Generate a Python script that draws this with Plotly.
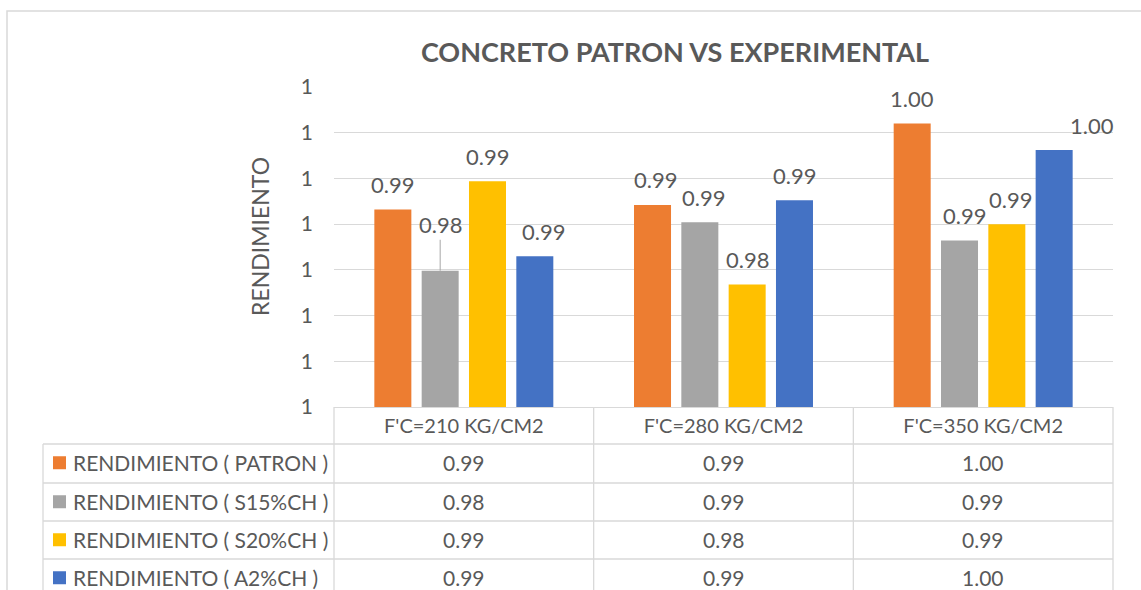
import plotly.graph_objects as go

# ---------------- data ----------------
categories = ["F'C=210 KG/CM2", "F'C=280 KG/CM2", "F'C=350 KG/CM2"]
series_names = [
    "RENDIMIENTO ( PATRON )",
    "RENDIMIENTO ( S15%CH )",
    "RENDIMIENTO ( S20%CH )",
    "RENDIMIENTO ( A2%CH )",
]
patron = [0.9916, 0.9921, 1.0010]
s15ch = [0.9849, 0.9902, 0.9882]
s20ch = [0.9947, 0.9834, 0.9900]
a2ch = [0.9865, 0.9926, 0.9981]
y_min, y_max, y_step = 0.97, 1.005, 0.005

title_text = "CONCRETO PATRON VS EXPERIMENTAL"
y_title_text = "RENDIMIENTO"

# ---------------- style / layout ----------------
series_values = [patron, s15ch, s20ch, a2ch]
colors = ["#ED7D31", "#A5A5A5", "#FFC000", "#4472C4"]
TXT = "#595959"
GRID = "#D9D9D9"
FONT = "Lato"

W, H = 1141, 590
PL, PR, PT, PB = 334, 1113, 87, 407   # plot area in pixels
BARGAP, BARGROUPGAP = 0.271, 0.218

def px_x(px):
    return (px - PL) / (PR - PL)

def px_y(py):
    return (PB - py) / (PB - PT)

fig = go.Figure()
for name, vals, col in zip(series_names, series_values, colors):
    fig.add_trace(go.Bar(
        x=categories, y=vals, name=name,
        marker=dict(color=col, line=dict(width=0)),
        showlegend=False,
    ))

# data labels (formatted like the chart: 2 decimals)
label_nudge = {(0, 3): 9, (1, 0): 3, (1, 1): 4, (2, 1): 5, (2, 2): 4, (2, 3): 38}
n = len(series_names)
pitch = (1 - BARGAP) / n
annotations = []
LABEL_SIZE = 22
for i, vals in enumerate(series_values):
    for j, v in enumerate(vals):
        xpos = j + (i - (n - 1) / 2) * pitch
        if (j, i) == (0, 1):
            annotations.append(dict(
                x=xpos, y=v, xref="x", yref="y", text=f"{v:.2f}",
                showarrow=True, arrowhead=0, arrowwidth=1, arrowcolor="#A6A6A6",
                ax=0, ay=-46, standoff=0,
                font=dict(family=FONT, size=LABEL_SIZE, color=TXT),
            ))
        else:
            annotations.append(dict(
                x=xpos, y=v, xref="x", yref="y", text=f"{v:.2f}",
                showarrow=False, yshift=25, xshift=label_nudge.get((j, i), 0),
                yanchor="middle", xanchor="center",
                font=dict(family=FONT, size=LABEL_SIZE, color=TXT),
            ))

# y-axis title
annotations.append(dict(
    x=px_x(260), y=px_y(237), xref="paper", yref="paper", text=y_title_text,
    textangle=-90, showarrow=False, xanchor="center", yanchor="middle",
    font=dict(family=FONT, size=23, color=TXT),
))

# ---------------- data table below the axis ----------------
TABLE_LEFT = 43
ROW_TOPS = [444, 483, 521, 559]
ROW_H = 37.5
BOTTOM = 600
col_edges = [PL + k * (PR - PL) / len(categories) for k in range(len(categories) + 1)]
shapes = []
line_style = dict(color=GRID, width=1.3)
for rt in ROW_TOPS:
    shapes.append(dict(type="line", xref="paper", yref="paper",
                       x0=px_x(TABLE_LEFT), x1=px_x(PR), y0=px_y(rt), y1=px_y(rt),
                       line=line_style))
shapes.append(dict(type="line", xref="paper", yref="paper",
                   x0=px_x(TABLE_LEFT), x1=px_x(TABLE_LEFT), y0=px_y(ROW_TOPS[0]), y1=px_y(BOTTOM),
                   line=line_style))
for ce in col_edges:
    shapes.append(dict(type="line", xref="paper", yref="paper",
                       x0=px_x(ce), x1=px_x(ce), y0=px_y(PB), y1=px_y(BOTTOM),
                       line=line_style))

for r, (name, vals, col) in enumerate(zip(series_names, series_values, colors)):
    cy = ROW_TOPS[r] + ROW_H / 2
    shapes.append(dict(type="rect", xref="paper", yref="paper",
                       x0=px_x(53), x1=px_x(66), y0=px_y(cy - 6.5), y1=px_y(cy + 6.5),
                       fillcolor=col, line=dict(width=0)))
    annotations.append(dict(
        x=px_x(71), y=px_y(cy), xref="paper", yref="paper", text=name,
        showarrow=False, xanchor="left", yanchor="middle",
        font=dict(family=FONT, size=21, color=TXT),
    ))
    for j, v in enumerate(vals):
        annotations.append(dict(
            x=px_x((col_edges[j] + col_edges[j + 1]) / 2), y=px_y(cy),
            xref="paper", yref="paper", text=f"{v:.2f}",
            showarrow=False, xanchor="center", yanchor="middle",
            font=dict(family=FONT, size=21, color=TXT),
        ))

# chart border
shapes.append(dict(type="rect", xref="paper", yref="paper",
                   x0=px_x(7), x1=px_x(1150), y0=px_y(11), y1=px_y(620),
                   line=dict(color="#D9D9D9", width=1.5), fillcolor="rgba(0,0,0,0)"))

fig.update_layout(
    width=W, height=H, autosize=False,
    margin=dict(l=PL, r=W - PR, t=PT, b=H - PB, pad=0, autoexpand=False),
    paper_bgcolor="white", plot_bgcolor="white",
    barmode="group", bargap=BARGAP, bargroupgap=BARGROUPGAP,
    title=dict(text=f"<b>{title_text}</b>", x=px_x(675), xref="paper", xanchor="center",
               y=1 - 53 / H, yref="container", yanchor="middle",
               font=dict(family=FONT, size=27, color=TXT)),
    xaxis=dict(type="category", range=[-0.5, len(categories) - 0.5], autorange=False,
               showgrid=False, showline=True, linecolor=GRID, linewidth=1.3,
               ticks="", tickfont=dict(family=FONT, size=20, color=TXT),
               ticklabelstandoff=1, fixedrange=True, automargin=False),
    yaxis=dict(range=[y_min, y_max], tick0=y_min, dtick=y_step, tickformat=".0f",
               showgrid=True, gridcolor=GRID, gridwidth=1.3, zeroline=False,
               showline=False, ticks="", ticklabelstandoff=20, automargin=False,
               tickfont=dict(family=FONT, size=21, color=TXT)),
    shapes=shapes, annotations=annotations,
    showlegend=False,
)

fig.write_html("out.html", config={"displayModeBar": False},
               post_script="document.body.style.margin='0px';document.body.style.overflow='hidden';")
